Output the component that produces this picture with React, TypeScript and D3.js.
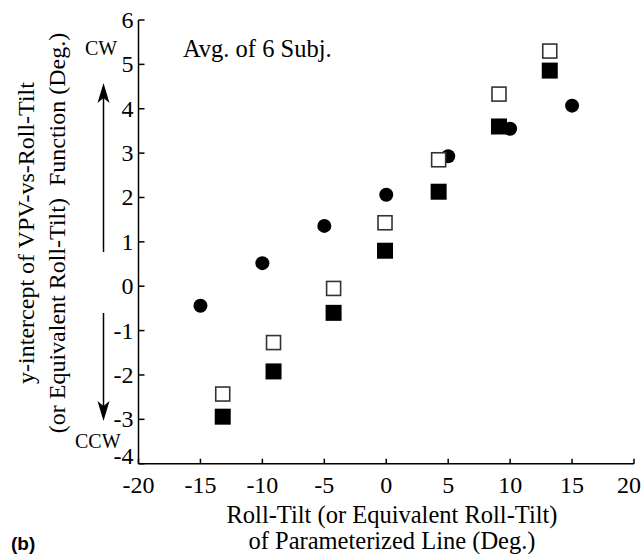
import React from "react";
import * as d3 from "d3";

const xTicks = [-20, -15, -10, -5, 0, 5, 10, 15, 20];
const yTicks = [-4, -3, -2, -1, 0, 1, 2, 3, 4, 5, 6];

const circleX = [-15, -10, -5, 0, 5, 10, 15];
const circleY = [-0.44, 0.52, 1.36, 2.06, 2.93, 3.55, 4.07];

const squareX = [-13.2, -9.1, -4.25, -0.1, 4.23, 9.1, 13.2];
const openSquareY = [-2.43, -1.27, -0.05, 1.43, 2.85, 4.33, 5.3];
const filledSquareY = [-2.94, -1.92, -0.6, 0.8, 2.13, 3.6, 4.86];

const W = 643;
const H = 554;
const serif = "'Liberation Serif', 'Times New Roman', serif";

export default function App() {
  const x = d3.scaleLinear().domain([-20, 20]).range([138.5, 634]);
  const y = d3.scaleLinear().domain([-4, 6]).range([463.7, 20]);
  const x0 = x(-20);
  const y0 = y(-4);

  const arrowX = 103.5;
  const upTip = 83;
  const upBottom = 252;
  const downTop = 313;
  const downTip = 421;
  const head = (tipY: number, dir: number) =>
    `M${arrowX},${tipY} L${arrowX - 6},${tipY + dir * 20} L${arrowX},${tipY + dir * 15} L${arrowX + 6},${tipY + dir * 20} Z`;

  return (
    <svg
      width={W}
      height={H}
      style={{ position: "absolute", left: 0, top: 0, background: "#fff" }}
      fontFamily={serif}
    >
      <rect x={0} y={0} width={W} height={H} fill="#fff" />
      {/* axes */}
      <line x1={x0} y1={y(6)} x2={x0} y2={y0} stroke="#000" strokeWidth={1.5} />
      <line x1={x0} y1={y0} x2={x(20)} y2={y0} stroke="#000" strokeWidth={1.5} />
      {yTicks.map((t) => (
        <g key={"yt" + t}>
          <line x1={x0} x2={x0 + 6} y1={y(t)} y2={y(t)} stroke="#000" strokeWidth={1.5} />
          <text
            x={x0 - 5}
            y={y(t) + (t === -4 ? 0 : 8)}
            textAnchor="end"
            fontSize={24}
          >
            {t}
          </text>
        </g>
      ))}
      {xTicks.map((t) => (
        <g key={"xt" + t}>
          <line x1={x(t)} x2={x(t)} y1={y0} y2={y0 - 5} stroke="#000" strokeWidth={1.5} />
          <text
            x={Math.min(x(t), 629)}
            y={y0 + 29}
            textAnchor="middle"
            fontSize={24}
          >
            {t}
          </text>
        </g>
      ))}

      {/* data */}
      {circleX.map((cx, i) => (
        <circle key={"c" + i} cx={x(cx)} cy={y(circleY[i])} r={7} fill="#000" />
      ))}
      {squareX.map((sx, i) => (
        <rect
          key={"o" + i}
          x={x(sx) - 7}
          y={y(openSquareY[i]) - 7}
          width={14}
          height={14}
          fill="#fff"
          stroke="#333"
          strokeWidth={1.6}
        />
      ))}
      {squareX.map((sx, i) => (
        <rect
          key={"f" + i}
          x={x(sx) - 8}
          y={y(filledSquareY[i]) - 8}
          width={16}
          height={16}
          fill="#000"
        />
      ))}

      {/* annotation */}
      <text x={183} y={57} fontSize={24.5}>Avg. of 6 Subj.</text>

      {/* direction arrows */}
      <line x1={arrowX} x2={arrowX} y1={upBottom} y2={upTip + 12} stroke="#000" strokeWidth={1.5} />
      <path d={head(upTip, 1)} fill="#000" />
      <line x1={arrowX} x2={arrowX} y1={downTop} y2={downTip - 12} stroke="#000" strokeWidth={1.5} />
      <path d={head(downTip, -1)} fill="#000" />
      <text x={85} y={55} fontSize={20}>CW</text>
      <text x={75} y={448} fontSize={20}>CCW</text>

      {/* y label */}
      <text
        transform="translate(33.5,233) rotate(-90)"
        textAnchor="middle"
        fontSize={24}
      >
        y-intercept of VPV-vs-Roll-Tilt
      </text>
      <text
        transform="translate(65,233) rotate(-90)"
        textAnchor="middle"
        fontSize={24}
        style={{ whiteSpace: "pre" }}
      >
        {"(or Equivalent Roll-Tilt)  Function (Deg.)"}
      </text>

      {/* x label */}
      <text x={392} y={523} textAnchor="middle" fontSize={24.5}>
        Roll-Tilt (or Equivalent Roll-Tilt)
      </text>
      <text x={392} y={549} textAnchor="middle" fontSize={24.5}>
        of Parameterized Line (Deg.)
      </text>

      <text x={11} y={550} fontSize={19} fontWeight="bold" fontFamily="'Liberation Sans', Arial, sans-serif">
        (b)
      </text>
    </svg>
  );
}
